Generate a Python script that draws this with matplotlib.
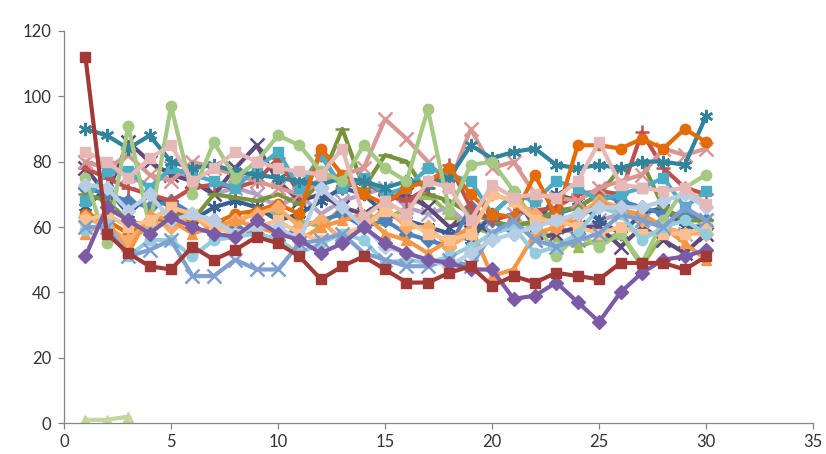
import numpy as np
import matplotlib
matplotlib.use('Agg')
import matplotlib.pyplot as plt

plt.rcParams['font.family'] = ['Lato', 'DejaVu Sans']

days = list(range(1, 31))
STAR = (6, 2, 0)

# (colour, marker, values), series drawn back to front
olive_tri = [66, 58, 56, 60, 64, 62, 62, 60, 66, 64, 62, 60, 66, 64, 62, 66, 70, 64, 60, 58, 62, 60, 56, 54, 56, 58, 48, 58, 66, 60]
lavender_x = [80, 78, 76, 72, 78, 74, 70, 72, 70, 66, 70, 64, 68, 70, 72, 66, 64, 66, 60, 62, 64, 66, 60, 58, 62, 64, 62, 60, 58, 62]
purple_x = [78, 70, 86, 80, 76, 74, 70, 78, 85, 74, 68, 70, 66, 64, 68, 70, 66, 60, 62, 58, 62, 56, 58, 60, 60, 54, 60, 56, 52, 58]
darkblue_star = [66, 72, 64, 70, 66, 62, 66, 68, 66, 62, 64, 68, 72, 70, 64, 62, 60, 58, 56, 64, 70, 60, 70, 68, 62, 58, 64, 66, 60, 60]
blue_dia = [72, 70, 68, 66, 68, 64, 62, 60, 58, 56, 60, 62, 64, 60, 62, 58, 56, 54, 66, 62, 58, 60, 64, 66, 70, 68, 66, 64, 64, 62]
green_dash = [70, 68, 62, 60, 64, 62, 70, 69, 68, 70, 67, 74, 90, 72, 82, 80, 70, 68, 64, 62, 60, 62, 65, 66, 70, 78, 80, 66, 62, 62]
red_plus = [78, 75, 72, 70, 68, 72, 73, 72, 74, 81, 70, 82, 72, 74, 70, 68, 72, 79, 66, 62, 64, 65, 66, 70, 71, 70, 89, 78, 72, 70]
rose_x = [80, 78, 82, 76, 74, 80, 78, 76, 74, 72, 70, 74, 76, 78, 93, 87, 80, 73, 90, 78, 80, 70, 69, 68, 72, 74, 76, 84, 82, 84]
cyan_sq = [68, 77, 77, 72, 78, 76, 74, 72, 78, 83, 72, 82, 72, 75, 70, 72, 78, 76, 74, 64, 70, 68, 74, 72, 68, 70, 72, 75, 66, 71]
teal_star = [90, 88, 84, 88, 80, 78, 79, 77, 76, 75, 74, 73, 75, 74, 72, 74, 73, 75, 85, 81, 83, 84, 79, 78, 79, 78, 80, 80, 79, 94]
orange_circ = [64, 62, 58, 62, 66, 63, 61, 64, 65, 67, 64, 84, 76, 70, 67, 72, 74, 78, 70, 64, 63, 76, 63, 85, 85, 84, 87, 84, 90, 86]
lgreen_circ = [75, 55, 91, 60, 97, 70, 86, 75, 80, 88, 85, 77, 74, 85, 78, 74, 96, 65, 79, 80, 71, 62, 51, 58, 54, 58, 49, 62, 72, 76]
lorange_dia = [63, 60, 56, 62, 60, 64, 58, 62, 64, 66, 60, 62, 56, 60, 66, 60, 60, 54, 58, 70, 68, 64, 60, 64, 68, 66, 62, 60, 58, 58]
orange_tri = [58, 62, 52, 64, 62, 58, 60, 62, 60, 58, 56, 60, 62, 64, 58, 56, 52, 56, 60, 45, 47, 58, 60, 62, 68, 65, 64, 60, 55, 50]
peach_line = [62, 64, 60, 62, 66, 64, 60, 58, 60, 62, 58, 56, 58, 60, 65, 62, 58, 56, 58, 70, 68, 62, 62, 60, 58, 60, 58, 58, 58, 60]
lcyan_line = [59, 61, 51, 56, 56, 51, 56, 57, 58, 56, 52, 55, 58, 56, 49, 50, 49, 51, 54, 58, 60, 52, 54, 58, 66, 64, 56, 60, 62, 58]
steel_x = [60, 60, 51, 53, 56, 45, 45, 50, 47, 47, 55, 56, 58, 52, 50, 48, 48, 50, 48, 58, 62, 56, 54, 56, 58, 64, 62, 60, 66, 62]
pale_blue_dia = [73, 72, 65, 70, 62, 64, 62, 58, 60, 60, 56, 72, 66, 60, 54, 52, 50, 48, 52, 56, 58, 60, 62, 64, 66, 66, 66, 68, 70, 66]
pink_sq = [83, 80, 75, 81, 85, 74, 78, 83, 80, 78, 77, 76, 84, 63, 68, 64, 74, 72, 62, 73, 69, 70, 69, 74, 86, 73, 72, 71, 72, 67]
purple_dia = [51, 66, 62, 58, 63, 60, 58, 57, 62, 58, 56, 52, 55, 60, 55, 52, 50, 49, 47, 47, 38, 39, 43, 37, 31, 40, 46, 50, 51, 53]
darkred_sq = [112, 58, 52, 48, 47, 54, 50, 53, 57, 55, 51, 44, 48, 51, 47, 43, 43, 46, 48, 42, 45, 43, 46, 45, 44, 49, 49, 49, 47, 51]
palegreen_tri = [1, 1, 2]

series = [
    ('#9BBB59', '^', olive_tri),
    ('#B3A2C7', 'x', lavender_x),
    ('#604A7B', 'x', purple_x),
    ('#376092', STAR, darkblue_star),
    ('#4F81BD', 'D', blue_dia),
    ('#77933C', '_', green_dash),
    ('#C0504D', '+', red_plus),
    ('#D99694', 'x', rose_x),
    ('#4BACC6', 's', cyan_sq),
    ('#31849B', STAR, teal_star),
    ('#E36C09', 'o', orange_circ),
    ('#A5C882', 'o', lgreen_circ),
    ('#F9AB6B', 'D', lorange_dia),
    ('#F79646', '^', orange_tri),
    ('#FAC090', 's', peach_line),
    ('#93CDDD', 'o', lcyan_line),
    ('#7F9FCF', 'x', steel_x),
    ('#B9CDE5', 'D', pale_blue_dia),
    ('#E6B9B8', 's', pink_sq),
    ('#7B5BA6', 'D', purple_dia),
    ('#A13A36', 's', darkred_sq),
    ('#C3D69B', '^', palegreen_tri),
]

fig = plt.figure(figsize=(8.26, 4.54), dpi=100)
ax = fig.add_axes([0.0775, 0.068, 0.907, 0.864])

for color, marker, vals in series:
    ms = 7.5
    mew = 1.0
    if marker in ('x', '+', '_') or marker == STAR:
        ms = 9.5
        mew = 1.8
    ax.plot(days[:len(vals)], vals, color=color, lw=3.0, marker=marker,
            ms=ms, mew=mew, mec=color, mfc=color)

ax.set_xlim(0, 35)
ax.set_ylim(0, 120)
ax.set_xticks(range(0, 36, 5))
ax.set_yticks(range(0, 121, 20))
for s in ('top', 'right'):
    ax.spines[s].set_visible(False)
for s in ('left', 'bottom'):
    ax.spines[s].set_color('#868686')
    ax.spines[s].set_linewidth(0.9)
ax.tick_params(colors='#868686', labelcolor='#333333', labelsize=12, length=4, width=0.9)
ax.tick_params(axis='y', pad=5)

fig.savefig('out.png', dpi=100)
